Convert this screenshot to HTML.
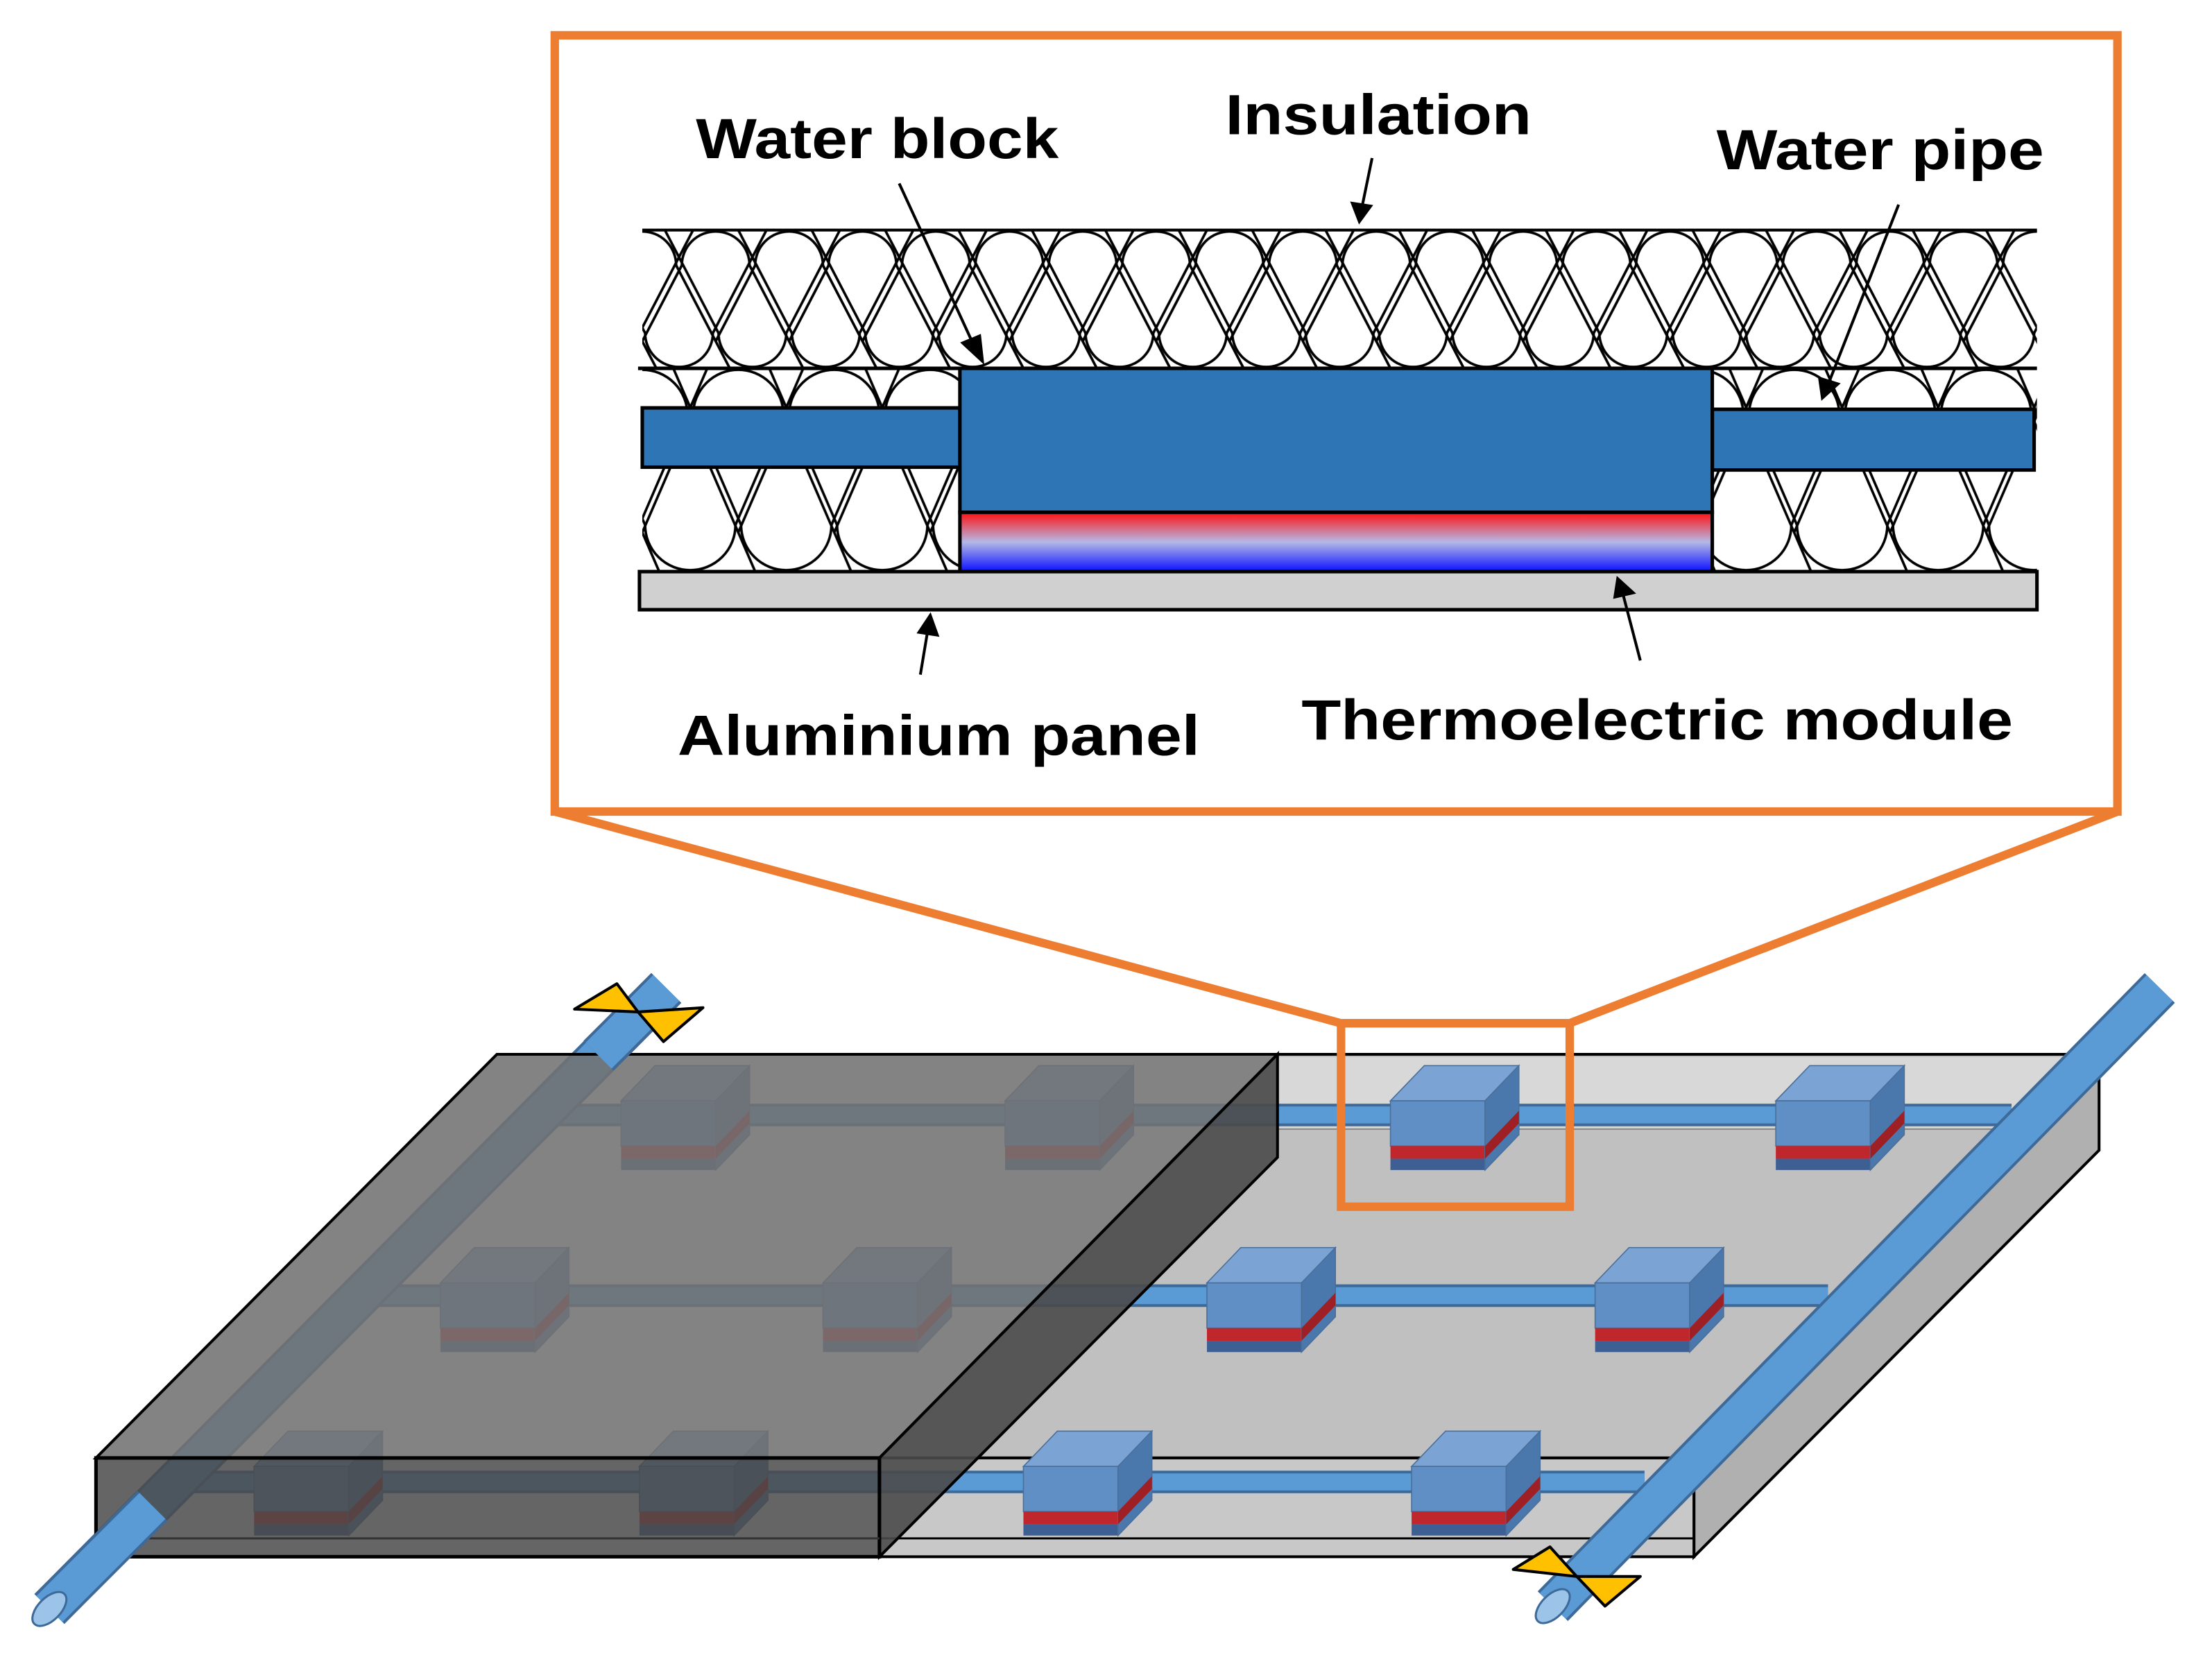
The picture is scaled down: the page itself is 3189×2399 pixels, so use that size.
<!DOCTYPE html>
<html><head><meta charset="utf-8"><style>html,body{margin:0;padding:0;background:#fff}svg{display:block}</style></head>
<body>
<svg width="3189" height="2399" viewBox="0 0 1567 1179" preserveAspectRatio="none" xmlns="http://www.w3.org/2000/svg">
<defs>
<pattern id="insTop" patternUnits="userSpaceOnUse" x="455" y="163" width="52" height="98">
<g fill="none" stroke="#000" stroke-width="1.8">
<path d="M-88,0 L-50,73 A24 24 0 0 0 -2,73 L36,0"/>
<path d="M-36,0 L2,73 A24 24 0 0 0 50,73 L88,0"/>
<path d="M16,0 L54,73 A24 24 0 0 0 102,73 L140,0"/>
<path d="M-62,98 L-24,25 A24 24 0 0 1 24,25 L62,98"/>
<path d="M-10,98 L28,25 A24 24 0 0 1 76,25 L114,98"/>
<path d="M-114,98 L-76,25 A24 24 0 0 1 -28,25 L10,98"/>
</g></pattern>
<pattern id="insBot" patternUnits="userSpaceOnUse" x="455" y="261" width="68" height="144">
<g fill="none" stroke="#000" stroke-width="1.8">
<path d="M-114,0 L-66,111 A32 32 0 0 0 -2,111 L46,0"/>
<path d="M-46,0 L2,111 A32 32 0 0 0 66,111 L114,0"/>
<path d="M22,0 L70,111 A32 32 0 0 0 134,111 L182,0"/>
<path d="M-80,144 L-32,33 A32 32 0 0 1 32,33 L80,144"/>
<path d="M-12,144 L36,33 A32 32 0 0 1 100,33 L148,144"/>
<path d="M-148,144 L-100,33 A32 32 0 0 1 -36,33 L12,144"/>
</g></pattern>
<linearGradient id="te" x1="0" y1="0" x2="0" y2="1">
<stop offset="0" stop-color="#ff1010"/><stop offset="0.5" stop-color="#b4b8e6"/><stop offset="1" stop-color="#0a10ff"/>
</linearGradient>
<g id="mod">
<polygon points="0,0 24,-25 91,-25 67,0" fill="#7ba3d4" stroke="#4a6f9a" stroke-width="0.8"/>
<rect x="0" y="0" width="67" height="32" fill="#5f8fc4" stroke="#4a6f9a" stroke-width="0.8"/>
<rect x="0" y="32" width="67" height="9" fill="#c0272d"/>
<rect x="0" y="41" width="67" height="8" fill="#3e5f93"/>
<polygon points="67,0 91,-25 91,24 67,49" fill="#4a78ad" stroke="#4a6f9a" stroke-width="0.8"/>
<polygon points="67,32 91,7 91,16 67,41" fill="#9e1f24"/>
</g>
</defs>

<!-- ====== Inset ====== -->
<rect x="455" y="163" width="988" height="98" fill="url(#insTop)"/>
<rect x="455" y="261" width="225" height="144" fill="url(#insBot)"/>
<rect x="1213" y="261" width="230" height="144" fill="url(#insBot)"/>
<line x1="455" y1="163" x2="1443" y2="163" stroke="#000" stroke-width="2"/>
<line x1="452" y1="261" x2="1443" y2="261" stroke="#000" stroke-width="2.5"/>
<rect x="455" y="289" width="225" height="42" fill="#2e75b6" stroke="#000" stroke-width="2.5"/>
<rect x="1213" y="290" width="228" height="43" fill="#2e75b6" stroke="#000" stroke-width="2.5"/>
<rect x="680" y="261" width="533" height="102" fill="#2e75b6" stroke="#000" stroke-width="2.5"/>
<rect x="680" y="363" width="533" height="42" fill="url(#te)" stroke="#000" stroke-width="2.5"/>
<rect x="453" y="405" width="990" height="27" fill="#d0d0d0" stroke="#000" stroke-width="2.5"/>

<g font-family="'Liberation Sans', Arial, sans-serif" font-weight="bold" font-size="40" fill="#000">
<text x="493" y="112" textLength="257" lengthAdjust="spacingAndGlyphs">Water block</text>
<text x="868" y="95" textLength="217" lengthAdjust="spacingAndGlyphs">Insulation</text>
<text x="1216" y="120" textLength="232" lengthAdjust="spacingAndGlyphs">Water pipe</text>
<text x="480" y="535" textLength="370" lengthAdjust="spacingAndGlyphs">Aluminium panel</text>
<text x="922" y="524" textLength="504" lengthAdjust="spacingAndGlyphs">Thermoelectric module</text>
</g>
<g stroke="#000" stroke-width="2" fill="#000">
<line x1="637" y1="130" x2="690" y2="245"/><polygon points="696,256 682,243 694,238"/>
<line x1="972" y1="112" x2="965" y2="146"/><polygon points="963,157 958,144 971,146"/>
<line x1="1345" y1="145" x2="1296" y2="270"/><polygon points="1291,282 1289,268 1302,272"/>
<line x1="652" y1="478" x2="657" y2="448"/><polygon points="659,436 664,450 651,448"/>
<line x1="1162" y1="468" x2="1150" y2="422"/><polygon points="1146,410 1157,420 1144,423"/>
</g>

<!-- ====== Light box ====== -->
<polygon points="905,747 1487,747 1200,1033 623,1033" fill="#c0c0c0" stroke="#000" stroke-width="2"/>
<polygon points="905,749 1485,749 1432,800 905,800" fill="#d8d8d8"/>
<line x1="905" y1="800" x2="1432" y2="800" stroke="#888" stroke-width="1"/>
<polygon points="1200,1033 1487,747 1487,815 1200,1103" fill="#b0b0b0" stroke="#000" stroke-width="2"/>
<rect x="623" y="1033" width="577" height="70" fill="#c8c8c8" stroke="#000" stroke-width="2"/>
<line x1="623" y1="1090" x2="1200" y2="1090" stroke="#000" stroke-width="1.5"/>

<!-- row pipes -->
<g stroke-linecap="butt">
<line x1="395" y1="790" x2="1425" y2="790" stroke="#3d6a99" stroke-width="16"/>
<line x1="395" y1="790" x2="1425" y2="790" stroke="#5b9bd5" stroke-width="12"/>
<line x1="265" y1="918" x2="1295" y2="918" stroke="#3d6a99" stroke-width="16"/>
<line x1="265" y1="918" x2="1295" y2="918" stroke="#5b9bd5" stroke-width="12"/>
<line x1="130" y1="1050" x2="1165" y2="1050" stroke="#3d6a99" stroke-width="16"/>
<line x1="130" y1="1050" x2="1165" y2="1050" stroke="#5b9bd5" stroke-width="12"/>
</g>
<use href="#mod" x="985" y="780"/><use href="#mod" x="1258" y="780"/>
<use href="#mod" x="440" y="780"/><use href="#mod" x="712" y="780"/>
<use href="#mod" x="855" y="909"/><use href="#mod" x="1130" y="909"/>
<use href="#mod" x="312" y="909"/><use href="#mod" x="583" y="909"/>
<use href="#mod" x="725" y="1039"/><use href="#mod" x="1000" y="1039"/>
<use href="#mod" x="180" y="1039"/><use href="#mod" x="453" y="1039"/>

<!-- left pipe under -->
<line x1="472" y1="700" x2="35" y2="1140" stroke="#3d6a99" stroke-width="30"/>
<line x1="472" y1="700" x2="35" y2="1140" stroke="#5b9bd5" stroke-width="26"/>

<!-- Dark box overlay -->
<polygon points="352,747 905,747 623,1033 68,1033" fill="#727272" fill-opacity="0.88" stroke="#000" stroke-width="2"/>
<polygon points="905,747 905,820 623,1103 623,1033" fill="#4a4a4a" fill-opacity="0.9" stroke="#000" stroke-width="2"/>
<rect x="68" y="1033" width="555" height="70" fill="#4a4a4a" fill-opacity="0.85" stroke="#000" stroke-width="2.5"/>
<line x1="68" y1="1090" x2="623" y2="1090" stroke="#333" stroke-width="1.5"/>

<!-- left pipe visible ends -->
<line x1="472" y1="700" x2="424" y2="748" stroke="#3d6a99" stroke-width="30"/>
<line x1="472" y1="700" x2="424" y2="748" stroke="#5b9bd5" stroke-width="26"/>
<line x1="108" y1="1067" x2="35" y2="1140" stroke="#3d6a99" stroke-width="30"/>
<line x1="108" y1="1067" x2="35" y2="1140" stroke="#5b9bd5" stroke-width="26"/>
<ellipse cx="35" cy="1140" rx="8" ry="15" transform="rotate(45 35 1140)" fill="#9cc3e8" stroke="#3d6a99" stroke-width="1.5"/>

<!-- right manifold -->
<line x1="1530" y1="700" x2="1100" y2="1138" stroke="#3d6a99" stroke-width="30"/>
<line x1="1530" y1="700" x2="1100" y2="1138" stroke="#5b9bd5" stroke-width="26"/>
<ellipse cx="1100" cy="1138" rx="8" ry="15" transform="rotate(45 1100 1138)" fill="#9cc3e8" stroke="#3d6a99" stroke-width="1.5"/>

<!-- valves -->
<g fill="#ffc000" stroke="#000" stroke-width="2" stroke-linejoin="round">
<polygon points="407,715 437,697 452,717"/><polygon points="452,717 498,714 470,738"/>
<polygon points="1072,1112 1098,1096 1117,1117"/><polygon points="1117,1117 1162,1117 1137,1138"/>
</g>

<!-- orange callout -->
<g fill="none" stroke="#ed7d31" stroke-width="6">
<rect x="393" y="25" width="1107" height="550"/>
<polyline points="393,575 950,725 1112,725 1500,575"/>
<rect x="950" y="725" width="162" height="130"/>
</g>
</svg>
</body></html>
